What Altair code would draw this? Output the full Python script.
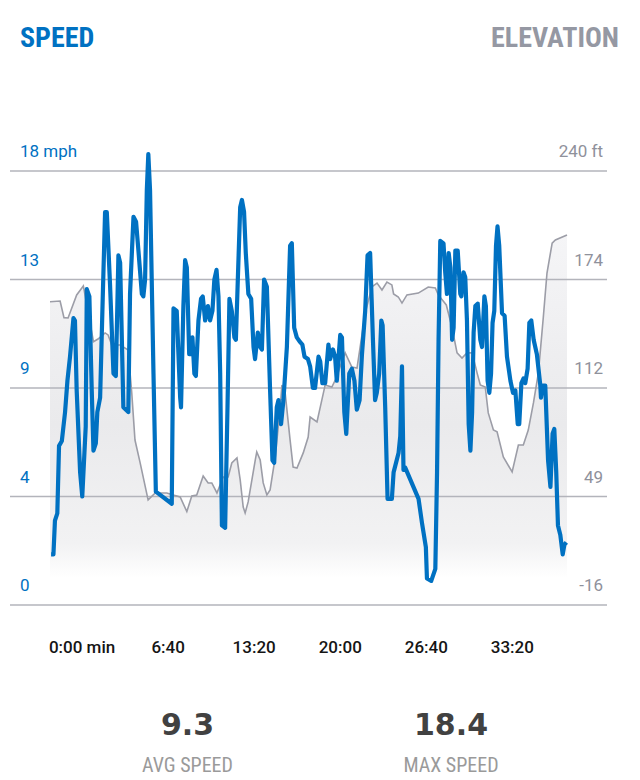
import altair as alt
import pandas as pd

# ---------------- data ----------------
speed_t = [-144,-133,-126,-115,-107,-94,-79,-68,-56,-40,
           -33,-25,-9,1,17,22,34,45,53,64,
           71,84,96,107,115,130,146,157,169,177,
           192,215,223,239,251,262,270,278,285,293,
           301,308,316,332,343,
           417,425,440,456,460,471,479,487,498,510,
           513,522,529,541,553,561,572,585,595,606,
           615,625,634,642,650,665,676,685,696,708,
           715,724,735,743,753,761,773,786,797,804,
           817,828,836,846,859,
           874,885,893,905,913,925,936,952,967,975,
           986,998,1014,1024,1034,1050,1060,1073,1083,1099,
           1107,1117,1130,1145,1153,1166,1176,1184,1200,1208,
           1219,1228,1242,1254,1266,1277,1290,1301,1316,1327,
           1339,1352,1362,1370,1381,
           1391,1397,1409,1420,1440,1448,1471,1479,1487,1494,
           1502,1564,1580,1598,1603,1623,1642,1650,1657,1665,
           1680,1688,1696,1704,1712,1720,1727,1735,1746,1758,
           1763,1773,1781,1789,1797,1805,1813,1820,1828,1839,
           1851,1859,1870,1877,1885,
           1893,1901,1908,1916,1924,1931,1939,1952,1964,1975,
           1991,2003,2014,2025,2032,2042,2052,2060,2071,2079,
           2088,2099,2114,2130,2133,2141,2153,2166,2177,2187,
           2195,2204,2212,2223,2234,2242,2251]
speed_mph = [2.1,2.1,3.5,3.8,6.6,6.8,8.0,9.3,10.3,11.9,
             11.8,8.9,5.5,4.5,7.4,13.1,12.8,8.9,6.4,6.7,
             8.0,8.6,12.7,16.3,16.3,13.3,9.6,9.5,14.5,14.2,
             8.2,8.0,12.9,16.1,15.9,14.7,13.8,12.9,12.8,13.5,
             17.2,18.7,17.2,9.6,4.7,
             4.2,12.3,12.2,8.6,8.2,12.4,14.3,14.0,10.4,10.4,
             11.1,9.6,9.5,11.8,12.7,12.8,11.8,12.4,11.8,12.2,
             13.5,13.9,12.8,9.6,3.3,3.2,8.2,12.7,12.2,11.1,
             11.0,13.5,16.5,16.8,16.3,14.6,12.9,12.7,10.7,10.2,
             11.3,10.7,10.6,13.5,13.2,
             8.9,6.0,5.9,8.2,8.5,7.5,8.5,10.7,14.9,15.0,
             11.5,11.1,10.9,10.8,10.3,10.2,9.9,9.0,9.0,10.3,
             10.1,9.2,9.2,10.8,10.2,10.6,10.3,9.3,11.2,11.1,
             8.0,7.1,9.6,9.8,9.3,8.1,8.5,10.4,12.2,14.5,
             14.6,11.0,8.5,8.8,9.6,
             11.8,11.6,8.2,4.4,4.4,5.5,6.3,7.0,9.9,5.6,
             5.7,4.4,3.4,2.4,1.1,1.0,1.5,5.5,11.0,15.1,
             15.0,13.8,12.9,14.6,14.0,11.0,11.5,14.7,14.7,12.9,
             12.8,13.8,13.6,11.8,7.5,6.4,8.0,11.3,12.4,12.5,
             11.0,10.7,12.8,12.4,9.3,
             8.8,9.6,11.7,12.2,14.9,15.7,14.9,12.1,12.0,10.3,
             9.3,8.8,8.9,7.5,7.5,9.2,9.4,9.2,9.8,11.7,
             11.8,11.0,10.4,9.1,8.6,9.1,9.1,6.0,4.9,7.1,
             7.3,5.5,3.3,2.9,2.1,2.5,2.6]

elev_t = [-149,-102,-84,-65,-25,6,53,74,107,121,
          138,177,214,231,246,270,307,340,394,423,
          456,487,510,533,563,586,603,627,656,679,
          696,720,735,749,758,772,805,812,828,842,
          859,874,898,921,929,944,967,981,999,1028,
          1051,1060,1092,1130,1161,1177,1223,1254,1278,1316,
          1347,1371,1394,1417,1440,1448,1470,1487,1510,1563,
          1609,1642,1656,1693,1719,1743,1766,1789,1813,1836,
          1851,1874,1888,1912,1929,1958,1999,2028,2051,2074,
          2098,2121,2144,2161,2185,2200,2254]
elev_ft = [162.9,163.3,153.5,153.3,166.9,172.2,139.3,140.9,144.5,143.3,
           137.4,137.4,134.4,109.1,81.3,67.8,46,50.1,50.1,48.9,
           47.7,39.1,48.3,48.9,60.1,56,56,50.1,59.5,59.5,
           67.8,70.7,57.8,41.8,38.3,44.8,69.5,74.3,69.5,56,
           48.9,51.9,71.3,100.8,113.8,109.1,81.3,65.4,64.8,73.7,
           83.1,94.9,92,113.8,112.6,116.7,132.7,124.4,123.8,156.2,
           171.6,173.9,169.8,174.5,172.8,167.5,165.7,162.1,166.9,168,
           171.6,171,166.9,161,148,132.7,129.7,132.7,132.7,120.9,
           113.8,112.6,97.3,87.2,86.1,71.3,62.5,78.4,78.4,87.2,
           103.2,120.9,153.9,179.8,197.5,199.3,202.3]

grid_speed = [0, 4.5, 9, 13.5, 18]
grid_elev = [-16, 48, 112, 176, 240]
speed_labels = ["0", "4", "9", "13", "18 mph"]
elev_labels = ["-16", "49", "112", "174", "240 ft"]
time_ticks = [0, 400, 800, 1200, 1600, 2000]
time_labels = ["0:00 min", "6:40", "13:20", "20:00", "26:40", "33:20"]
stat_values = ["9.3", "18.4"]
stat_names = ["AVG SPEED", "MAX SPEED"]

# ---------------- styling ----------------
W, H = 517, 434
BLUE = "#0071c2"
GREY_TXT = "#8f919b"
COND = "'Liberation Sans Narrow', 'Roboto Condensed', 'DejaVu Sans Condensed', 'Arial Narrow', sans-serif"
FONT = "Roboto"

speed_df = pd.DataFrame({"t": speed_t, "mph": speed_mph})
elev_df = pd.DataFrame({"t": elev_t, "ft": elev_ft})
grid_df = pd.DataFrame({"mph": grid_speed, "ft": grid_elev,
                        "left": speed_labels, "right": elev_labels})
tick_df = pd.DataFrame({"t": time_ticks, "label": time_labels})

xdom = [min(speed_t + elev_t), max(speed_t + elev_t)]
xs = alt.Scale(domain=xdom, nice=False, zero=False)
ys = alt.Scale(domain=[0, 18], nice=False, zero=False)
ye = alt.Scale(domain=[-16, 240], nice=False, zero=False)
X = alt.X("t:Q", scale=xs, axis=None)

grad = alt.Gradient(
    gradient="linear", x1=0, x2=0, y1=0, y2=1,
    stops=[alt.GradientStop(color="#f5f5f7", offset=0),
           alt.GradientStop(color="#eaeaec", offset=0.55),
           alt.GradientStop(color="#f2f2f3", offset=0.9),
           alt.GradientStop(color="#ffffff", offset=1)])

area = alt.Chart(elev_df).mark_area(color=grad).encode(
    x=X, y=alt.Y("ft:Q", scale=ye, axis=None), y2=alt.value(H + 18))

grid = alt.Chart(grid_df).mark_rule(color="#b3b4bb", strokeWidth=1.5).encode(
    y=alt.Y("mph:Q", scale=ys, axis=None), x=alt.value(-40), x2=alt.value(557))

left_lab = alt.Chart(grid_df).mark_text(
    align="left", baseline="alphabetic", dy=-14, font=FONT, fontSize=17,
    color=BLUE).encode(
    y=alt.Y("mph:Q", scale=ys, axis=None), x=alt.value(-30), text="left:N")

right_lab = alt.Chart(grid_df).mark_text(
    align="right", baseline="alphabetic", dy=-14, font=FONT, fontSize=17,
    color=GREY_TXT).encode(
    y=alt.Y("mph:Q", scale=ys, axis=None), x=alt.value(553), text="right:N")

elev_line = alt.Chart(elev_df).mark_line(color="#9c9da7", strokeWidth=1.6).encode(
    x=X, y=alt.Y("ft:Q", scale=ye, axis=None))

speed_line = alt.Chart(speed_df).mark_line(
    color=BLUE, strokeWidth=4.2, strokeJoin="round").encode(
    x=X, y=alt.Y("mph:Q", scale=ys, axis=None))

time_lab = alt.Chart(tick_df).mark_text(
    align="center", baseline="alphabetic", font=FONT, fontSize=17,
    fontWeight=500, color="#151515").encode(
    x=X, y=alt.value(H + 48), text="label:N")

one = pd.DataFrame({"k": [0]})
title_l = alt.Chart(one).mark_text(
    text="SPEED", align="left", baseline="alphabetic", font=COND,
    fontSize=28, fontWeight="bold", color=BLUE).encode(
    x=alt.value(-30), y=alt.value(-124))
title_r = alt.Chart(one).mark_text(
    text="ELEVATION", align="right", baseline="alphabetic", font=COND,
    fontSize=28, fontWeight="bold", color="#9598a3").encode(
    x=alt.value(569), y=alt.value(-124))

def stat(i, xpos):
    v = alt.Chart(one).mark_text(
        text=stat_values[i], align="center", baseline="alphabetic",
        font="DejaVu Sans", fontSize=30, fontWeight="bold",
        color="#414141").encode(x=alt.value(xpos), y=alt.value(564))
    n = alt.Chart(one).mark_text(
        text=stat_names[i], align="center", baseline="alphabetic",
        font=COND, fontSize=20, color="#9a9a9a").encode(
        x=alt.value(xpos), y=alt.value(601))
    return v + n

chart = alt.layer(
    area, grid, left_lab, right_lab, elev_line, speed_line, time_lab,
    title_l, title_r, stat(0, 137.5), stat(1, 401)
).resolve_scale(y="independent").properties(
    width=W, height=H,
    padding={"left": 50, "top": 171, "right": 73, "bottom": 175},
    autosize=alt.AutoSizeParams(type="none"),
    background="white",
).configure_view(stroke=None)

chart.save("out.html", embed_options={"renderer": "svg", "actions": False})
